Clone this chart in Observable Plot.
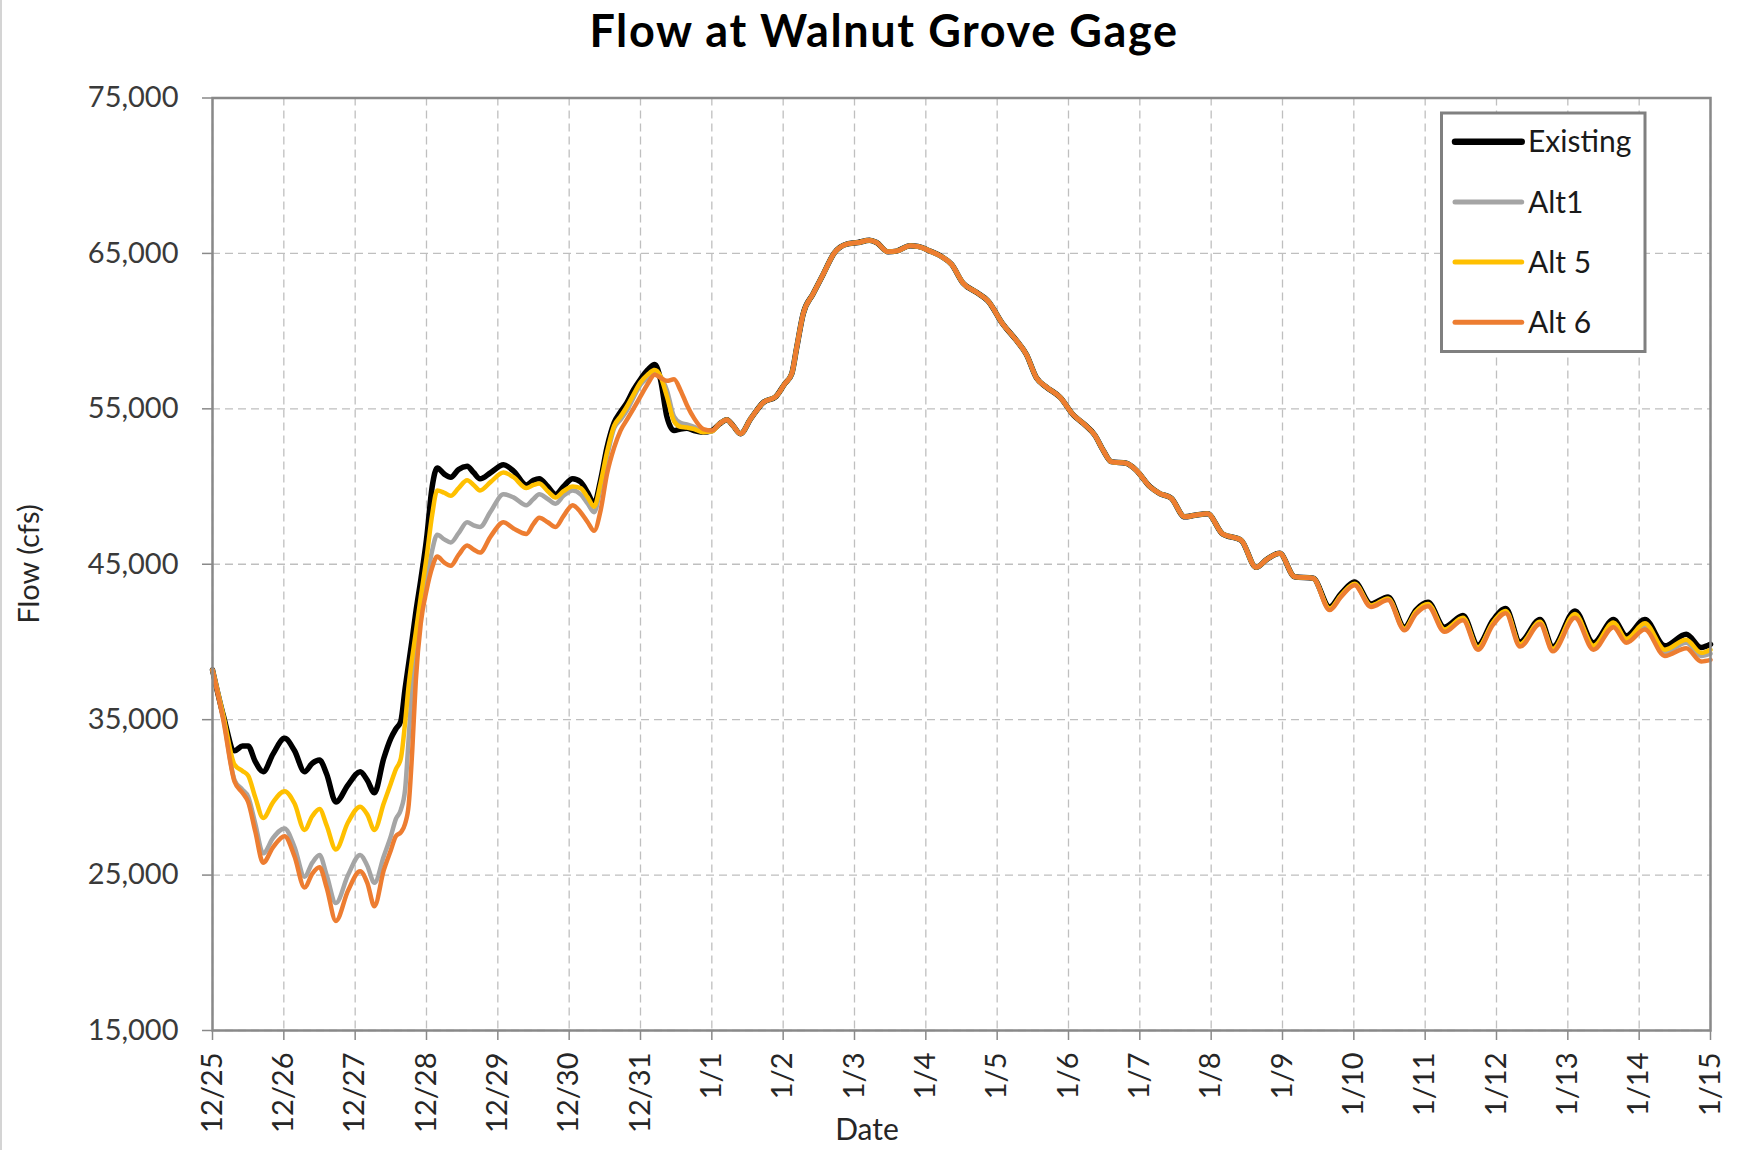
<!DOCTYPE html>
<html>
<head>
<meta charset="utf-8">
<script src="https://cdn.jsdelivr.net/npm/d3@7"></script>
<script src="https://cdn.jsdelivr.net/npm/@observablehq/plot@0.6"></script>
<style>
  html, body { margin: 0; padding: 0; background: #ffffff; }
  #wrap { position: relative; width: 1737px; height: 1150px; overflow: hidden; background: #ffffff; }
  #wrap > svg { position: absolute; left: 0; top: 0; }
  #edge { position: absolute; left: 0; top: 0; width: 2px; height: 1150px; background: #d4d4d4; }
</style>
</head>
<body>
<div id="wrap"><div id="edge"></div></div>
<script>
// ---------- DATA ----------
const chartTitle = "Flow at Walnut Grove Gage";
const xTitle = "Date";
const yTitle = "Flow (cfs)";
const dateLabels = ["12/25","12/26","12/27","12/28","12/29","12/30","12/31","1/1","1/2","1/3","1/4",
  "1/5","1/6","1/7","1/8","1/9","1/10","1/11","1/12","1/13","1/14","1/15"];
const yTicks = [15, 25, 35, 45, 55, 65, 75]; // thousand cfs
const seriesNames = ["Existing", "Alt1", "Alt 5", "Alt 6"];

// days since 12/25 00:00
const dayOffsets = [0,0.15,0.31,0.42,0.5,0.6,0.71,0.85,1.01,1.15,
  1.29,1.4,1.5,1.6,1.73,1.9,2.07,2.17,2.27,2.4,
  2.5,2.57,2.64,2.7,2.75,2.8,2.85,2.92,3.0,3.08,
  3.15,3.25,3.34,3.45,3.57,3.66,3.75,3.9,4.08,4.22,
  4.4,4.5,4.58,4.7,4.81,4.92,5.05,5.16,5.26,5.35,
  5.44,5.53,5.63,5.72,5.81,5.9,6.0,6.1,6.2,6.28,
  6.37,6.47,6.56,6.65,6.75,6.88,7.0,7.1,7.21,7.3,
  7.4,7.55,7.72,7.9,8.02,8.12,8.19,8.28,8.42,8.56,
  8.72,8.89,9.05,9.21,9.31,9.47,9.59,9.78,9.89,10.06,
  10.22,10.36,10.52,10.71,10.87,11.08,11.27,11.41,11.55,11.69,
  11.88,12.07,12.21,12.37,12.49,12.6,12.81,12.95,13.14,13.28,
  13.44,13.63,13.77,13.95,14.16,14.42,14.63,14.79,14.96,15.17,
  15.43,15.66,15.82,16.01,16.24,16.48,16.71,16.87,17.04,17.27,
  17.53,17.74,17.95,18.13,18.33,18.61,18.79,19.1,19.36,19.64,
  19.82,20.08,20.36,20.66,20.87,21.0];

// flow, thousand cfs
const existingFlow = [38.2,35.3,33.0,33.3,33.3,32.3,31.65,32.8,33.8,33.0,
  31.65,32.2,32.4,31.5,29.7,30.8,31.65,31.1,30.3,32.5,
  33.8,34.4,34.9,37.0,38.6,40.2,41.9,44.0,46.6,50.0,
  51.2,50.8,50.6,51.1,51.3,50.9,50.5,50.9,51.4,51.0,
  50.1,50.4,50.5,50.0,49.5,50.0,50.5,50.3,49.6,48.9,
  50.4,52.5,54.1,54.8,55.4,56.2,56.9,57.5,57.85,56.9,
  54.5,53.6,53.7,53.75,53.6,53.5,53.6,54.0,54.3,53.9,
  53.4,54.4,55.4,55.8,56.6,57.25,58.95,61.1,62.4,63.65,
  65.05,65.6,65.7,65.85,65.7,65.1,65.15,65.5,65.45,65.15,
  64.8,64.3,63.1,62.5,61.95,60.45,59.4,58.5,57.0,56.4,
  55.75,54.6,54.05,53.3,52.3,51.6,51.5,51.05,50.0,49.55,
  49.25,48.05,48.15,48.25,46.95,46.55,44.8,45.35,45.7,44.2,
  44.1,42.25,43.1,43.85,42.45,42.9,40.95,42.05,42.55,40.95,
  41.7,39.8,41.4,42.15,40.0,41.45,39.7,42.0,39.95,41.45,
  40.4,41.45,39.75,40.5,39.65,39.85];

const alt1Flow = [38.2,35.2,31.1,30.5,30.05,28.3,26.4,27.4,28.0,26.8,
  24.9,25.8,26.3,25.0,23.2,25.0,26.3,25.6,24.5,26.2,
  27.5,28.6,29.2,30.5,33.8,37.2,39.3,41.6,43.8,45.9,
  46.9,46.6,46.4,47.0,47.7,47.5,47.4,48.4,49.5,49.3,
  48.8,49.2,49.5,49.2,48.9,49.4,49.75,49.5,48.9,48.35,
  49.9,51.9,53.75,54.3,54.9,55.7,56.55,57.0,57.4,57.1,
  56.2,54.5,54.1,54.0,53.85,53.5,53.55,54.0,54.3,53.9,
  53.4,54.4,55.4,55.8,56.6,57.25,58.95,61.1,62.4,63.65,
  65.05,65.6,65.7,65.85,65.7,65.1,65.15,65.5,65.45,65.15,
  64.8,64.3,63.1,62.5,61.95,60.45,59.4,58.5,57.0,56.4,
  55.75,54.6,54.05,53.3,52.3,51.6,51.5,51.05,50.0,49.55,
  49.25,48.05,48.15,48.25,46.95,46.55,44.8,45.35,45.7,44.2,
  44.1,42.1,42.95,43.7,42.3,42.75,40.8,41.9,42.4,40.75,
  41.5,39.6,41.2,41.95,39.8,41.25,39.5,41.7,39.65,41.15,
  40.1,41.05,39.35,39.95,39.1,39.25];

const alt5Flow = [38.2,35.3,32.1,31.7,31.4,30.0,28.67,29.7,30.4,29.6,
  27.9,28.8,29.25,28.2,26.65,28.4,29.4,28.9,27.9,29.6,
  30.9,31.8,32.5,34.8,37.2,39.0,40.6,42.9,45.4,48.2,
  49.75,49.6,49.4,49.9,50.4,50.1,49.75,50.3,50.9,50.6,
  49.9,50.1,50.2,49.7,49.3,49.7,50.0,49.9,49.3,48.7,
  50.2,52.2,53.9,54.5,55.15,55.9,56.7,57.2,57.5,57.1,
  55.8,54.2,53.85,53.8,53.7,53.5,53.55,54.0,54.3,53.9,
  53.4,54.4,55.4,55.8,56.6,57.25,58.95,61.1,62.4,63.65,
  65.05,65.6,65.7,65.85,65.7,65.1,65.15,65.5,65.45,65.15,
  64.8,64.3,63.1,62.5,61.95,60.45,59.4,58.5,57.0,56.4,
  55.75,54.6,54.05,53.3,52.3,51.6,51.5,51.05,50.0,49.55,
  49.25,48.05,48.15,48.25,46.95,46.55,44.8,45.35,45.7,44.2,
  44.1,42.15,43.0,43.75,42.35,42.8,40.85,41.95,42.45,40.8,
  41.55,39.65,41.25,42.0,39.85,41.3,39.55,41.8,39.75,41.25,
  40.2,41.2,39.5,40.15,39.3,39.5];

const alt6Flow = [38.2,35.0,31.0,30.3,29.7,27.8,25.8,26.8,27.5,26.2,
  24.2,25.1,25.5,24.2,22.05,24.0,25.25,24.5,23.0,25.3,
  26.6,27.5,27.75,28.3,29.5,33.0,37.5,41.2,43.3,44.8,
  45.5,45.1,44.9,45.6,46.2,45.95,45.75,46.8,47.7,47.3,
  46.95,47.6,48.0,47.7,47.4,48.1,48.8,48.35,47.7,47.15,
  48.45,50.8,52.5,53.6,54.3,55.0,55.8,56.6,57.2,57.0,
  56.8,56.9,56.2,55.25,54.4,53.7,53.6,54.0,54.3,53.9,
  53.4,54.4,55.4,55.8,56.6,57.25,58.95,61.1,62.4,63.65,
  65.05,65.6,65.7,65.85,65.7,65.1,65.15,65.5,65.45,65.15,
  64.8,64.3,63.1,62.5,61.95,60.45,59.4,58.5,57.0,56.4,
  55.75,54.6,54.05,53.3,52.3,51.6,51.5,51.05,50.0,49.55,
  49.25,48.05,48.15,48.25,46.95,46.55,44.8,45.35,45.7,44.2,
  44.1,42.05,42.9,43.65,42.25,42.7,40.75,41.8,42.3,40.65,
  41.4,39.5,41.1,41.85,39.7,41.15,39.4,41.55,39.5,40.95,
  39.95,40.8,39.1,39.6,38.75,38.85];

// ---------- STYLE ----------
const seriesColors = ["#000000", "#a5a5a5", "#ffc000", "#ed7d31"];
const seriesWidths = [5.5, 4.5, 4.5, 4.5];
const seriesValues = [existingFlow, alt1Flow, alt5Flow, alt6Flow];
const FONT = "Lato, 'Open Sans', sans-serif";

const rowsFor = (vals, name) => dayOffsets.map((d, i) => ({day: d, flow: vals[i], series: name}));
const dayTicks = d3.range(0, dateLabels.length);
const gridStyle = {stroke: "#bfbfbf", strokeOpacity: 1, strokeWidth: 1.3, strokeDasharray: "8,5"};

const chart = Plot.plot({
  width: 1737,
  height: 1150,
  marginLeft: 212,
  marginRight: 27,
  marginTop: 97.5,
  marginBottom: 120,
  style: {fontFamily: FONT, fontSize: "29px", background: "transparent", color: "#333333"},
  x: {type: "linear", domain: [0, dateLabels.length - 1]},
  y: {domain: [yTicks[0], yTicks[yTicks.length - 1]]},
  marks: [
    Plot.gridX(dayTicks, gridStyle),
    Plot.gridY(yTicks, gridStyle),
    Plot.axisX(dayTicks, {
      tickFormat: i => dateLabels[i], tickRotate: -90, tickSize: 10, tickPadding: 12,
      stroke: "#898989", strokeWidth: 1.5, fill: "#262626", label: null
    }),
    Plot.axisY(yTicks, {
      tickFormat: v => d3.format(",")(v * 1000), tickSize: 10, tickPadding: 24,
      stroke: "#898989", strokeWidth: 1.5, fill: "#3a3a3a", label: null
    }),
    ...seriesValues.map((vals, s) => Plot.line(rowsFor(vals, seriesNames[s]), {
      x: "day", y: "flow", stroke: seriesColors[s], strokeWidth: seriesWidths[s],
      curve: "monotone-x", strokeLinejoin: "round", strokeLinecap: "round"
    })),
    Plot.frame({stroke: "#898989", strokeWidth: 2.5})
  ]
});

const wrap = document.getElementById("wrap");
wrap.appendChild(chart);

// ---------- TITLES & LEGEND (overlay) ----------
const ov = d3.create("svg")
  .attr("width", 1737).attr("height", 1150)
  .attr("font-family", FONT)
  .style("pointer-events", "none");

ov.append("text")
  .attr("x", 884).attr("y", 46.5)
  .attr("text-anchor", "middle")
  .attr("font-size", 45).attr("font-weight", 700).attr("fill", "#000")
  .attr("letter-spacing", "1.6px")
  .text(chartTitle);

ov.append("text")
  .attr("transform", "translate(39,564) rotate(-90)")
  .attr("text-anchor", "middle")
  .attr("font-size", 29).attr("fill", "#262626")
  .text(yTitle);

ov.append("text")
  .attr("x", 867).attr("y", 1140)
  .attr("text-anchor", "middle")
  .attr("font-size", 30).attr("fill", "#262626")
  .text(xTitle);

const lg = ov.append("g");
lg.append("rect")
  .attr("x", 1441.5).attr("y", 113).attr("width", 203.5).attr("height", 238.5)
  .attr("fill", "#fff").attr("stroke", "#808080").attr("stroke-width", 3);
const legendWidths = [6.5, 5, 5, 5];
seriesNames.forEach((name, i) => {
  const cy = 141.7 + i * 60.2;
  lg.append("line")
    .attr("x1", 1455).attr("x2", 1521.7).attr("y1", cy).attr("y2", cy)
    .attr("stroke", seriesColors[i]).attr("stroke-width", legendWidths[i])
    .attr("stroke-linecap", "round");
  lg.append("text")
    .attr("x", 1528).attr("y", cy + 10.6)
    .attr("font-size", 30).attr("fill", "#1a1a1a")
    .text(name);
});

wrap.appendChild(ov.node());
</script>
</body>
</html>
